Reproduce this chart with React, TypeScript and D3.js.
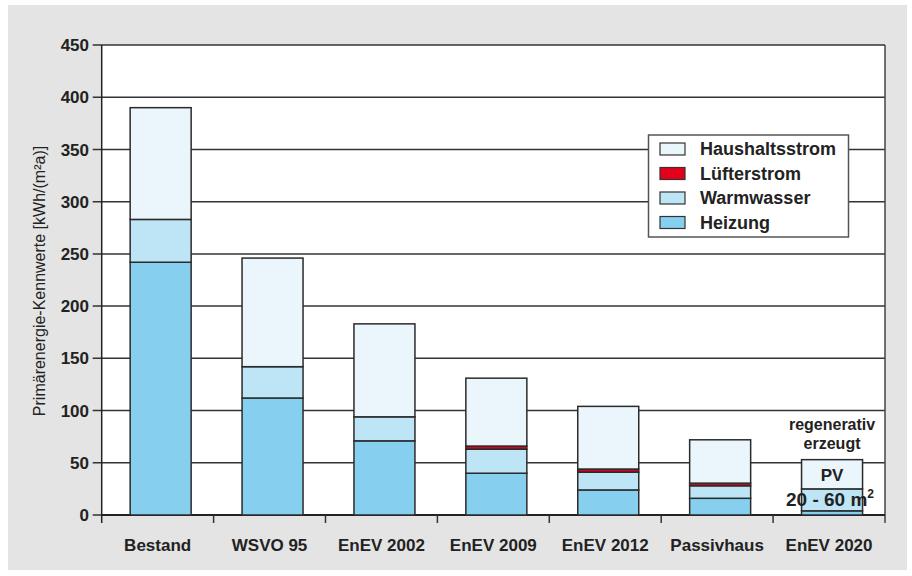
import { useRef, useEffect } from "react";
import * as d3 from "d3";

const categories = ["Bestand", "WSVO 95", "EnEV 2002", "EnEV 2009", "EnEV 2012", "Passivhaus", "EnEV 2020"];
const heizung = [242, 112, 71, 40, 24, 16, 4];
const warmwasser = [41, 30, 23, 23, 17, 12, 21];
const luefterstrom = [0, 0, 0, 3, 3, 2.5, 0];
const haushaltsstrom = [107, 104, 89, 65, 60, 41.5, 28];
const yTicks = [0, 50, 100, 150, 200, 250, 300, 350, 400, 450];

const seriesNames = ["Heizung", "Warmwasser", "Lüfterstrom", "Haushaltsstrom"];
const seriesColors = ["#86cfee", "#bee5f6", "#d8001c", "#eaf5fc"];

const W = 912;
const H = 576;
const left = 101.7;
const right = 885;
const top = 45;
const bottom = 515;
const FONT = "'Liberation Sans', Arial, sans-serif";

export default function App() {
  const svgRef = useRef<SVGSVGElement>(null);

  useEffect(() => {
    if (!svgRef.current) return;
    const svg = d3.select(svgRef.current);
    svg.selectAll("*").remove();

    const x = d3.scaleBand<string>().domain(categories).range([left, right]).padding(0);
    const y = d3.scaleLinear().domain([0, 450]).range([bottom, top]);
    const barW = 61;
    const barX = (c: string) => (x(c) ?? 0) + (x.bandwidth() - barW) / 2 + 3;

    // background
    svg.append("rect").attr("x", 0).attr("y", 0).attr("width", W).attr("height", H).attr("fill", "#fff");
    svg.append("rect").attr("x", 8).attr("y", 5).attr("width", 899).attr("height", 565).attr("fill", "#e3e4e3");
    svg.append("rect").attr("x", left).attr("y", top).attr("width", right - left).attr("height", bottom - top).attr("fill", "#fff");

    // gridlines
    svg
      .append("g")
      .selectAll("line")
      .data(yTicks)
      .join("line")
      .attr("x1", left - 9)
      .attr("x2", right)
      .attr("y1", (d) => y(d))
      .attr("y2", (d) => y(d))
      .attr("stroke", "#333")
      .attr("stroke-width", 1.5);

    // y tick labels
    svg
      .append("g")
      .selectAll("text")
      .data(yTicks)
      .join("text")
      .attr("x", 89)
      .attr("y", (d) => y(d))
      .attr("dy", "0.36em")
      .attr("text-anchor", "end")
      .attr("font-family", FONT)
      .attr("font-size", 17)
      .attr("font-weight", "bold")
      .attr("fill", "#222")
      .text((d) => d);

    // axis frame
    svg.append("line").attr("x1", left).attr("x2", left).attr("y1", top).attr("y2", bottom + 8).attr("stroke", "#222").attr("stroke-width", 1.5);
    svg.append("line").attr("x1", right).attr("x2", right).attr("y1", top).attr("y2", bottom + 8).attr("stroke", "#444").attr("stroke-width", 1.5);
    svg.append("line").attr("x1", left).attr("x2", right).attr("y1", bottom).attr("y2", bottom).attr("stroke", "#222").attr("stroke-width", 2);

    // category boundary ticks
    svg
      .append("g")
      .selectAll("line")
      .data(categories.slice(1))
      .join("line")
      .attr("x1", (c) => x(c) ?? 0)
      .attr("x2", (c) => x(c) ?? 0)
      .attr("y1", bottom)
      .attr("y2", bottom + 8)
      .attr("stroke", "#333")
      .attr("stroke-width", 1.5);

    // stacked bars
    const rows = categories.map((c, i) => ({
      cat: c,
      Heizung: heizung[i],
      Warmwasser: warmwasser[i],
      Lüfterstrom: luefterstrom[i],
      Haushaltsstrom: haushaltsstrom[i],
    }));
    const stacked = d3.stack<any>().keys(seriesNames)(rows);

    stacked.forEach((layer, li) => {
      svg
        .append("g")
        .selectAll("rect")
        .data(layer.filter((d) => d[1] - d[0] > 0))
        .join("rect")
        .attr("x", (d) => barX(d.data.cat))
        .attr("y", (d) => y(d[1]))
        .attr("width", barW)
        .attr("height", (d) => y(d[0]) - y(d[1]))
        .attr("fill", seriesColors[li])
        .attr("stroke", "#2b2b2b")
        .attr("stroke-width", 1.5);
    });

    // category labels
    svg
      .append("g")
      .selectAll("text")
      .data(categories)
      .join("text")
      .attr("x", (c) => (x(c) ?? 0) + x.bandwidth() / 2)
      .attr("y", 551)
      .attr("text-anchor", "middle")
      .attr("font-family", FONT)
      .attr("font-size", 17)
      .attr("font-weight", "bold")
      .attr("fill", "#222")
      .text((c) => c);

    // y axis title
    svg
      .append("text")
      .attr("transform", `translate(45,${(top + bottom) / 2 + 1}) rotate(-90)`)
      .attr("text-anchor", "middle")
      .attr("font-family", FONT)
      .attr("font-size", 16)
      .attr("fill", "#222")
      .text("Primärenergie-Kennwerte [kWh/(m²a)]");

    // legend
    const lg = svg.append("g");
    lg.append("rect")
      .attr("x", 648.5)
      .attr("y", 135)
      .attr("width", 200)
      .attr("height", 102)
      .attr("fill", "#fff")
      .attr("stroke", "#555")
      .attr("stroke-width", 1.5);
    const legendOrder = [3, 2, 1, 0];
    legendOrder.forEach((si, k) => {
      const ry = 143 + k * 24.5;
      lg.append("rect")
        .attr("x", 660)
        .attr("y", ry)
        .attr("width", 25)
        .attr("height", 12)
        .attr("fill", si === 2 ? "#e2001a" : seriesColors[si])
        .attr("stroke", "#333")
        .attr("stroke-width", 1.2);
      lg.append("text")
        .attr("x", 700)
        .attr("y", ry + 12)
        .attr("font-family", FONT)
        .attr("font-size", 18)
        .attr("font-weight", "bold")
        .attr("fill", "#222")
        .text(seriesNames[si]);
    });

    // annotation for EnEV 2020
    const cx = (x("EnEV 2020") ?? 0) + x.bandwidth() / 2 + 3;
    const ann = svg.append("g").attr("font-family", FONT).attr("font-weight", "bold").attr("fill", "#222").attr("text-anchor", "middle");
    ann.append("text").attr("x", cx).attr("y", 430).attr("font-size", 16).text("regenerativ");
    ann.append("text").attr("x", cx).attr("y", 449).attr("font-size", 16).text("erzeugt");
    ann.append("text").attr("x", cx).attr("y", 481).attr("font-size", 17).text("PV");
    const m2 = ann.append("text").attr("x", cx - 2).attr("y", 506).attr("font-size", 19);
    m2.append("tspan").text("20 - 60 m");
    m2.append("tspan").attr("dy", -8).attr("font-size", 12).text("2");
  }, []);

  return (
    <svg
      ref={svgRef}
      width={W}
      height={H}
      style={{ position: "absolute", left: 0, top: 0, display: "block" }}
    />
  );
}
